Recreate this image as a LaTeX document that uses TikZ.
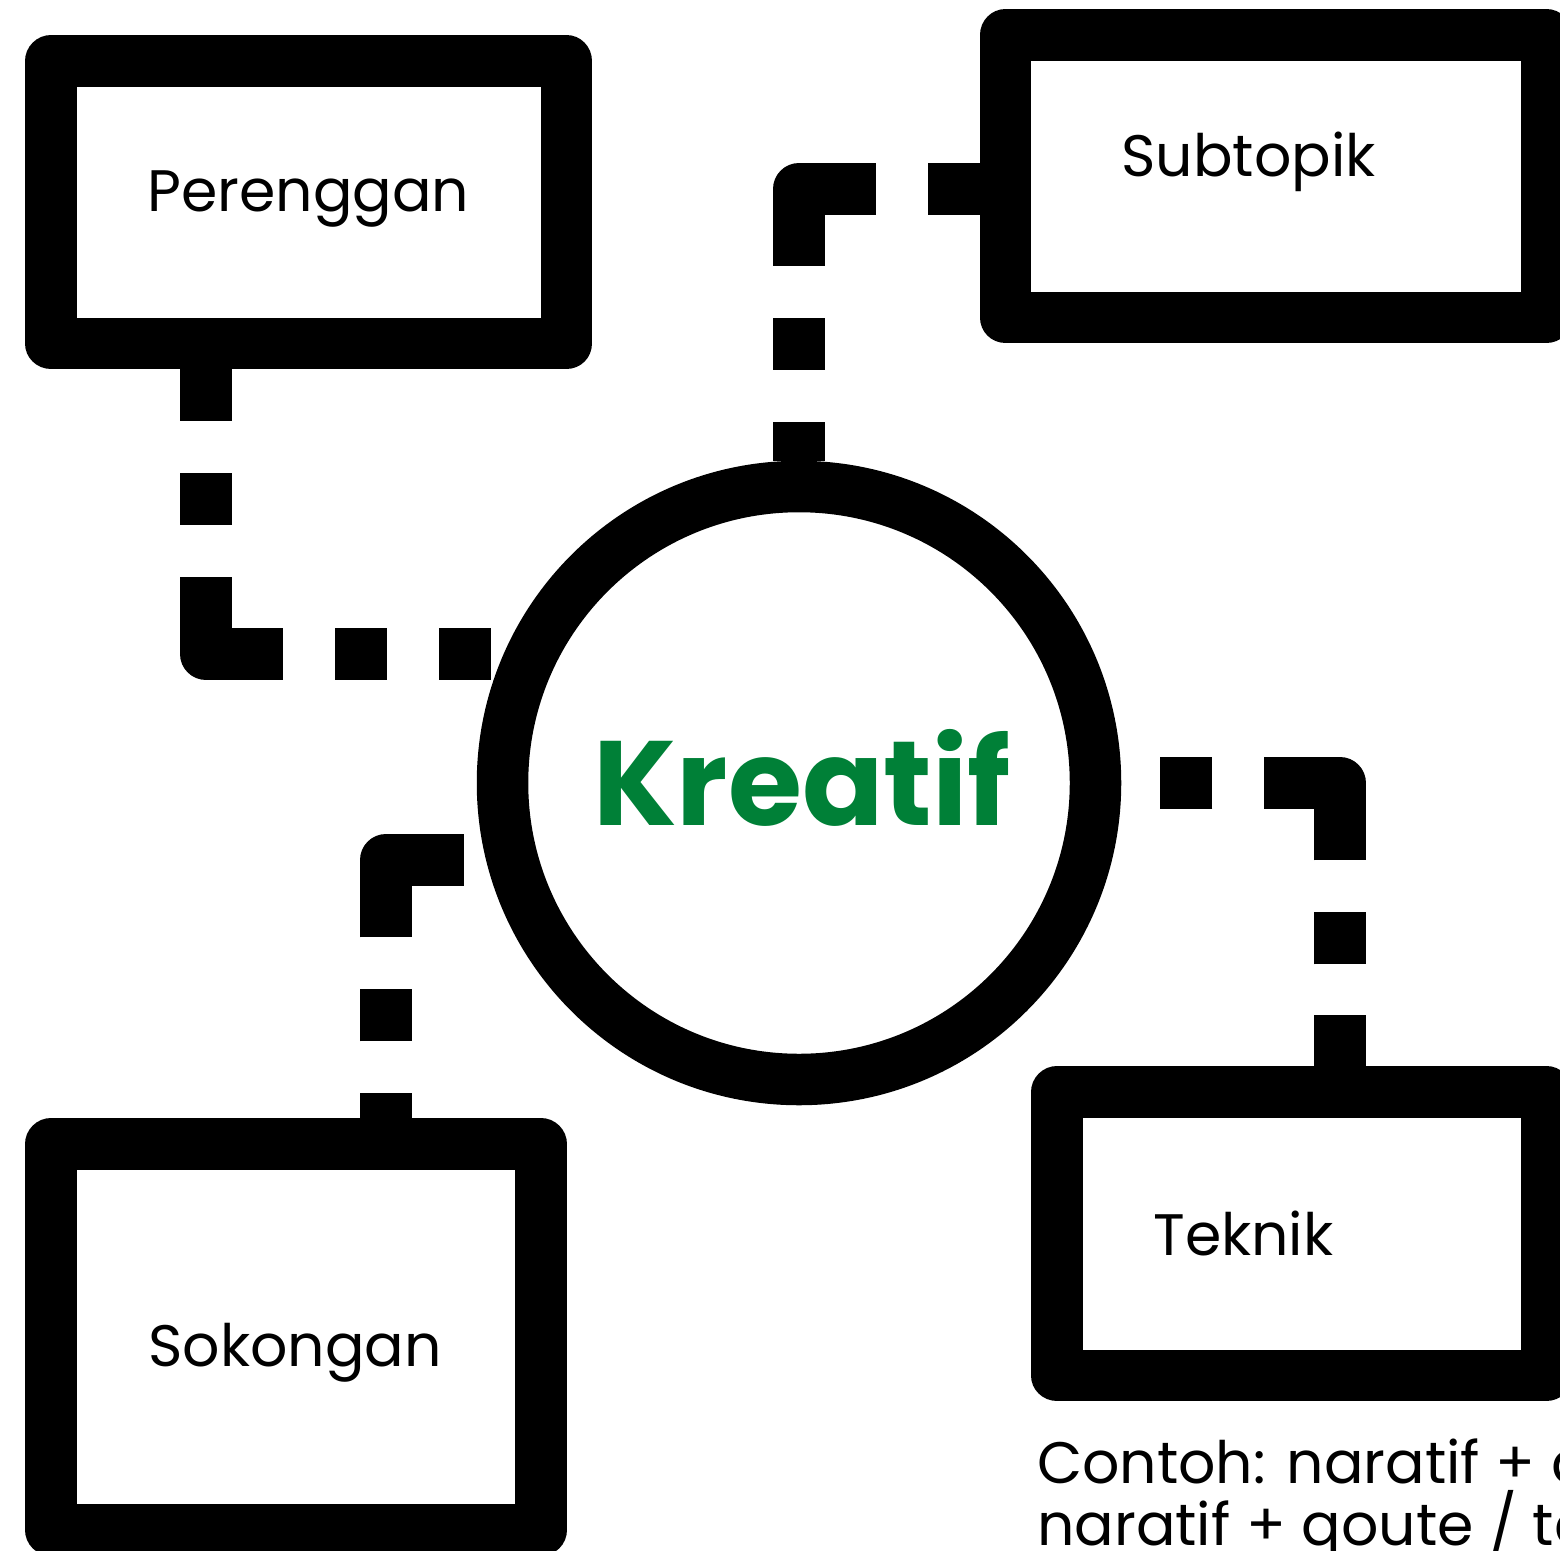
\documentclass[tikz,border=0pt]{standalone}
\usepackage{fontspec}
\setmainfont{Poppins}
\usepackage{xcolor}
\usetikzlibrary{calc}
\definecolor{kgreen}{RGB}{0,128,55}

\begin{document}
\begin{tikzpicture}[x=1pt,y=-1pt,
		box/.style n args={2}{draw, line width=51.5pt, line join=round, minimum width=#1pt, minimum height=#2pt},
		hub/.style={draw, circle, line width=51.5pt, minimum size=593pt},
		link/.style={draw, line width=52pt, line join=round, dash pattern=#1},
		lbl/.style={font=\fontsize{58.5}{70}\selectfont, inner sep=0pt, anchor=base},
		note/.style={font=\fontsize{58.5}{70}\selectfont, inner sep=0pt, anchor=base west}]
			\useasboundingbox (0,0) rectangle (1560,1550);
			% boxes and the hub
			\node[box={515.5}{282.5}] (per) at (308.75,202.25) {};
			\node[box={541}{282.5}] (sub) at (1276,176.25) {};
			\node[box={489.5}{283.5}] (tek) at (1301.75,1233.75) {};
			\node[box={490}{386}] (sok) at (296,1337) {};
			\node[hub] (circ) at (799,783) {};
			% corners of the links
			\coordinate (k1) at (206,654);
			\coordinate (e1) at (491,654);
			\coordinate (k2) at (799,189);
			\coordinate (k3) at (1340,783);
			\coordinate (k4) at (386,860);
			\coordinate (e4) at (464,860);
			\draw[link={on 52pt off 52pt on 52pt off 52pt on 154pt off 52pt on 52pt off 52pt on 52pt off 52pt}]
				(per.south -| k1) -- (k1) -- (e1);
			\draw[link={on 52pt off 52pt on 154pt off 52pt on 52pt off 52pt on 200pt off 10pt}]
				(sub.west |- k2) -- (k2) -- (circ.north);
			\draw[link={on 51pt off 51pt on 52pt off 52pt on 153pt off 52pt on 52pt off 100pt}]
				(tek.north -| k3) -- (k3) -- (circ.east);
			\draw[link={on 25pt off 52pt on 52pt off 52pt on 155pt off 10pt}]
				(sok.north -| k4) -- (k4) -- (e4);
			% texts
			\node[lbl] (per-t) at (308.5,211) {Perenggan};
			\node[lbl] (sub-t) at (1248.5,176) {Subtopik};
			\node[lbl] (tek-t) at (1243.5,1255) {Teknik};
			\node[lbl] (sok-t) at (295,1366) {Sokongan};
			\node[lbl, font=\fontsize{120}{134}\selectfont\bfseries, text=kgreen] (kre) at (802,825) {Kreatif};
			\node[note] (ex1) at (1037,1483) {Contoh: naratif + d};
			\node[note] (ex2) at (1037,1545) {naratif + qoute / te};
\end{tikzpicture}
\end{document}
